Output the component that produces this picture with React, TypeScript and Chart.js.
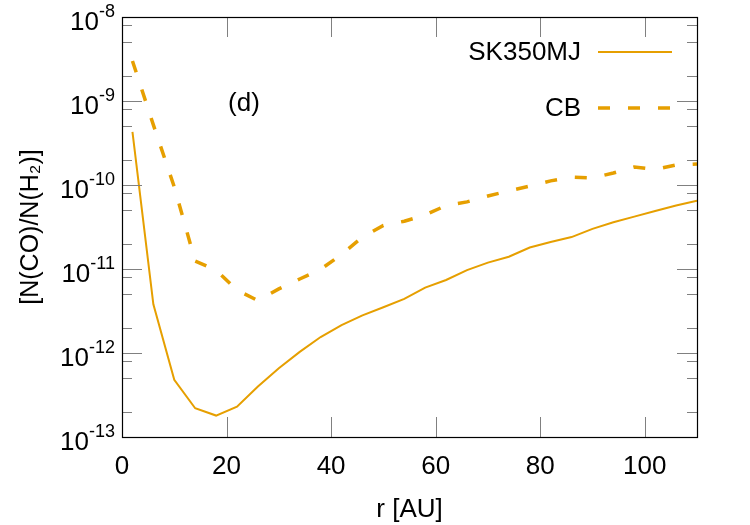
import React, { useEffect, useRef } from 'react';
import { Chart, registerables } from 'chart.js';

Chart.register(...registerables);

// ---- data ----
const radii = [2, 6, 10, 14, 18, 22, 26, 30, 34, 38, 42, 46, 50, 54, 58, 62, 66, 70, 74, 78, 82, 86, 90, 94, 98, 102, 106, 110];
const sk350mj = [
  4.3e-10, 3.8e-12, 4.8e-13, 2.2e-13, 1.8e-13, 2.3e-13, 4.0e-13, 6.6e-13, 1.03e-12, 1.55e-12,
  2.15e-12, 2.8e-12, 3.5e-12, 4.4e-12, 6.0e-12, 7.4e-12, 9.7e-12, 1.19e-11, 1.4e-11, 1.8e-11,
  2.1e-11, 2.4e-11, 3.0e-11, 3.6e-11, 4.2e-11, 4.9e-11, 5.7e-11, 6.5e-11,
];
const cb = [
  3.0e-9, 5.2e-10, 9.5e-11, 1.24e-11, 9.7e-12, 5.6e-12, 4.2e-12, 5.8e-12, 7.6e-12, 9.9e-12,
  1.49e-11, 2.4e-11, 3.3e-11, 3.7e-11, 4.4e-11, 5.7e-11, 6.3e-11, 7.4e-11, 8.5e-11, 9.7e-11,
  1.12e-10, 1.24e-10, 1.21e-10, 1.39e-10, 1.64e-10, 1.53e-10, 1.73e-10, 1.78e-10,
];
const seriesLabels = ['SK350MJ', 'CB'];
const xTicks = [0, 20, 40, 60, 80, 100];
const yDecades = [1e-13, 1e-12, 1e-11, 1e-10, 1e-9, 1e-8];
const yMinorFactors = [2, 5, 8];
const panelLabel = '(d)';
const xTitle = 'r [AU]';
const yTitle = '[N(CO)/N(H\u2082)]';

const ORANGE = '#E69F00';
const FONT = '"Liberation Sans", Arial, Helvetica, sans-serif';
const DASH = [12, 18];

const decorPlugin = {
  id: 'decor',
  afterDraw(chart: any) {
    const { ctx, chartArea: a, scales } = chart;
    const xs = scales.x;
    const ys = scales.y;
    ctx.save();
    // tick marks (inside)
    ctx.strokeStyle = '#808080';
    ctx.lineWidth = 1;
    ctx.beginPath();
    xTicks.forEach((v) => {
      const px = Math.round(xs.getPixelForValue(v)) + 0.5;
      ctx.moveTo(px, a.bottom); ctx.lineTo(px, a.bottom - 20);
      ctx.moveTo(px, a.top); ctx.lineTo(px, a.top + 20);
    });
    yDecades.forEach((d, i) => {
      const py = Math.round(ys.getPixelForValue(d)) + 0.5;
      ctx.moveTo(a.left, py); ctx.lineTo(a.left + 20, py);
      ctx.moveTo(a.right, py); ctx.lineTo(a.right - 20, py);
      if (i < yDecades.length - 1) {
        yMinorFactors.forEach((f) => {
          const my = Math.round(ys.getPixelForValue(d * f)) + 0.5;
          ctx.moveTo(a.left, my); ctx.lineTo(a.left + 10, my);
          ctx.moveTo(a.right, my); ctx.lineTo(a.right - 10, my);
        });
      }
    });
    ctx.stroke();
    // frame
    ctx.strokeStyle = '#000';
    ctx.lineWidth = 1.2;
    ctx.strokeRect(Math.round(a.left) + 0.5, Math.round(a.top) + 0.5, Math.round(a.right - a.left), Math.round(a.bottom - a.top));

    // y tick labels with superscript exponents
    ctx.fillStyle = '#000';
    yDecades.forEach((d) => {
      const py = ys.getPixelForValue(d);
      const exp = String(Math.round(Math.log10(d)));
      ctx.font = `18px ${FONT}`;
      ctx.textAlign = 'right';
      ctx.textBaseline = 'alphabetic';
      const ew = ctx.measureText(exp).width;
      ctx.fillText(exp, a.left - 7, py - 0.5);
      ctx.font = `26px ${FONT}`;
      ctx.fillText('10', a.left - 7 - ew, py + 12.5);
    });

    // panel label
    ctx.font = `26px ${FONT}`;
    ctx.textAlign = 'center';
    ctx.textBaseline = 'middle';
    ctx.fillText(panelLabel, 244, 104);

    // legend
    const rows = [52, 108];
    chart.data.datasets.forEach((ds: any, i: number) => {
      const y = rows[i];
      ctx.font = `26px ${FONT}`;
      ctx.textAlign = 'right';
      ctx.textBaseline = 'middle';
      ctx.fillStyle = '#000';
      ctx.fillText(ds.label, 581, y + 1);
      ctx.strokeStyle = ds.borderColor;
      ctx.lineWidth = ds.borderWidth;
      ctx.setLineDash(ds.borderDash || []);
      ctx.beginPath();
      ctx.moveTo(598, y);
      ctx.lineTo(672, y);
      ctx.stroke();
      ctx.setLineDash([]);
    });
    ctx.restore();
  },
};

export default function App() {
  const ref = useRef<HTMLCanvasElement>(null);
  useEffect(() => {
    const chart = new Chart(ref.current!, {
      type: 'line',
      data: {
        datasets: [
          {
            label: seriesLabels[0],
            data: radii.map((r, i) => ({ x: r, y: sk350mj[i] })),
            borderColor: ORANGE,
            borderWidth: 2,
            pointRadius: 0,
            tension: 0,
            fill: false,
          },
          {
            label: seriesLabels[1],
            data: radii.map((r, i) => ({ x: r, y: cb[i] })),
            borderColor: ORANGE,
            borderWidth: 3.5,
            borderDash: DASH,
            pointRadius: 0,
            tension: 0,
            fill: false,
          },
        ],
      },
      options: {
        animation: false,
        responsive: false,
        devicePixelRatio: 1,
        layout: { padding: { left: 0, top: 17, right: 53, bottom: 0 } },
        plugins: { legend: { display: false }, tooltip: { enabled: false } },
        scales: {
          x: {
            type: 'linear',
            min: 0,
            max: 110,
            afterBuildTicks: (s: any) => { s.ticks = xTicks.map((v) => ({ value: v })); },
            afterFit: (s: any) => { s.height = 88; },
            grid: { display: false, drawTicks: false },
            border: { display: false },
            ticks: { font: { family: FONT, size: 26 }, color: '#000', padding: 14, maxRotation: 0, autoSkip: false },
            title: { display: true, text: xTitle, font: { family: FONT, size: 26 }, color: '#000', padding: { top: 0, bottom: 0 } },
          },
          y: {
            type: 'logarithmic',
            min: 1e-13,
            max: 1e-8,
            afterBuildTicks: (s: any) => { s.ticks = yDecades.map((v) => ({ value: v })); },
            afterFit: (s: any) => { s.width = 122; },
            grid: { display: false, drawTicks: false },
            border: { display: false },
            ticks: { display: false },
            title: { display: true, text: yTitle, font: { family: FONT, size: 25 }, color: '#000', padding: { top: 16, bottom: 0 } },
          },
        },
      },
      plugins: [decorPlugin],
    } as any);
    return () => chart.destroy();
  }, []);
  return (
    <div style={{ position: 'absolute', left: 0, top: 0, width: 750, height: 525, background: '#fff' }}>
      <canvas ref={ref} width={750} height={525} />
    </div>
  );
}
